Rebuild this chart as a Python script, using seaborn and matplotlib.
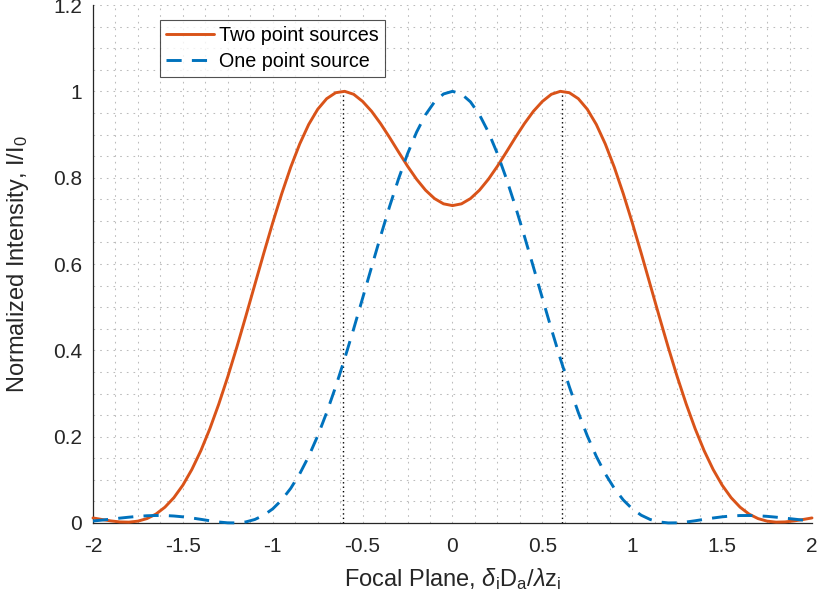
import matplotlib
matplotlib.use("Agg")
import matplotlib.pyplot as plt
import matplotlib.ticker as mticker
import seaborn as sns
import pandas as pd

# ---------------- data ----------------
x_vals = [-2.00, -1.95, -1.90, -1.85, -1.80, -1.75, -1.70, -1.65, -1.60, -1.55,
          -1.50, -1.45, -1.40, -1.35, -1.30, -1.25, -1.20, -1.15, -1.10, -1.05,
          -1.00, -0.95, -0.90, -0.85, -0.80, -0.75, -0.70, -0.65, -0.60, -0.55,
          -0.50, -0.45, -0.40, -0.35, -0.30, -0.25, -0.20, -0.15, -0.10, -0.05,
          0.00,
          0.05, 0.10, 0.15, 0.20, 0.25, 0.30, 0.35, 0.40, 0.45, 0.50,
          0.55, 0.60, 0.65, 0.70, 0.75, 0.80, 0.85, 0.90, 0.95, 1.00,
          1.05, 1.10, 1.15, 1.20, 1.25, 1.30, 1.35, 1.40, 1.45, 1.50,
          1.55, 1.60, 1.65, 1.70, 1.75, 1.80, 1.85, 1.90, 1.95, 2.00]

two_sources = [0.0117, 0.0081, 0.0048, 0.0025, 0.0020, 0.0043, 0.0102, 0.0206, 0.0366, 0.0587,
               0.0877, 0.1240, 0.1675, 0.2183, 0.2758, 0.3391, 0.4072, 0.4787, 0.5518, 0.6248,
               0.6958, 0.7629, 0.8243, 0.8781, 0.9233, 0.9584, 0.9830, 0.9968, 1.0000, 0.9932,
               0.9766, 0.9537, 0.9252, 0.8931, 0.8595, 0.8266, 0.7965, 0.7710, 0.7516, 0.7394,
               0.7353,
               0.7394, 0.7516, 0.7710, 0.7965, 0.8266, 0.8595, 0.8931, 0.9252, 0.9537, 0.9766,
               0.9932, 1.0000, 0.9968, 0.9830, 0.9584, 0.9233, 0.8781, 0.8243, 0.7629, 0.6958,
               0.6248, 0.5518, 0.4787, 0.4072, 0.3391, 0.2758, 0.2183, 0.1675, 0.1240, 0.0877,
               0.0587, 0.0366, 0.0206, 0.0102, 0.0043, 0.0020, 0.0025, 0.0048, 0.0081, 0.0117]

one_source = [0.0046, 0.0067, 0.0090, 0.0113, 0.0135, 0.0154, 0.0168, 0.0174, 0.0173, 0.0162,
              0.0143, 0.0116, 0.0085, 0.0052, 0.0023, 0.0004, 0.0002, 0.0025, 0.0081, 0.0180,
              0.0328, 0.0534, 0.0803, 0.1139, 0.1544, 0.2018, 0.2558, 0.3157, 0.3806, 0.4495,
              0.5209, 0.5931, 0.6645, 0.7332, 0.7975, 0.8554, 0.9053, 0.9458, 0.9756, 0.9939,
              1.0000,
              0.9939, 0.9756, 0.9458, 0.9053, 0.8554, 0.7975, 0.7332, 0.6645, 0.5931, 0.5209,
              0.4495, 0.3806, 0.3157, 0.2558, 0.2018, 0.1544, 0.1139, 0.0803, 0.0534, 0.0328,
              0.0180, 0.0081, 0.0025, 0.0002, 0.0004, 0.0023, 0.0052, 0.0085, 0.0116, 0.0143,
              0.0162, 0.0173, 0.0174, 0.0168, 0.0154, 0.0135, 0.0113, 0.0090, 0.0067, 0.0046]

peak_positions = [-0.61, 0.61]
peak_heights = [1.0, 1.0]

series_names = ["Two point sources", "One point source"]
x_ticks = [-2, -1.5, -1, -0.5, 0, 0.5, 1, 1.5, 2]
x_tick_labels = ["-2", "-1.5", "-1", "-0.5", "0", "0.5", "1", "1.5", "2"]
y_ticks = [0, 0.2, 0.4, 0.6, 0.8, 1.0, 1.2]
y_tick_labels = ["0", "0.2", "0.4", "0.6", "0.8", "1", "1.2"]

# ---------------- style ----------------
sns.set_style("white")
plt.rcParams["font.family"] = ["Liberation Sans", "DejaVu Sans"]
plt.rcParams["mathtext.fontset"] = "custom"
plt.rcParams["mathtext.rm"] = "Liberation Sans"
plt.rcParams["mathtext.it"] = "Liberation Sans:italic"
plt.rcParams["mathtext.bf"] = "Liberation Sans:bold"

RED = "#D95319"
BLUE = "#0072BD"
TXT = "#262626"

df_two = pd.DataFrame({"x": x_vals, "y": two_sources})
df_one = pd.DataFrame({"x": x_vals, "y": one_source})

fig = plt.figure(figsize=(8.2, 6.09), dpi=100)
ax = fig.add_axes([93 / 820, 86 / 609, 719 / 820, 518 / 609])

# grid (MATLAB-like dotted minor grid)
ax.xaxis.set_major_locator(mticker.FixedLocator(x_ticks))
ax.yaxis.set_major_locator(mticker.FixedLocator(y_ticks))
ax.xaxis.set_minor_locator(mticker.MultipleLocator(0.125))
ax.yaxis.set_minor_locator(mticker.MultipleLocator(0.05))
grid_kw = dict(color="#bcbcbc", linewidth=0.75, linestyle=(0, (1.6, 4.8)))
ax.grid(True, which="major", **grid_kw)
ax.grid(True, which="minor", **grid_kw)
ax.set_axisbelow(True)

# peak markers
ax.vlines(peak_positions, 0, peak_heights, colors="black", linestyles=(0, (1, 2.2)),
          linewidth=1.0, zorder=2)

sns.lineplot(data=df_two, x="x", y="y", ax=ax, color=RED, linewidth=2.1,
             label=series_names[0], zorder=3, clip_on=False)
sns.lineplot(data=df_one, x="x", y="y", ax=ax, color=BLUE, linewidth=2.1,
             label=series_names[1], zorder=4, clip_on=False)
ax.lines[-1].set_dashes((5.2, 3.5))

ax.set_xlim(-2, 2)
ax.set_ylim(0, 1.2)
ax.set_xticklabels(x_tick_labels)
ax.set_yticklabels(y_tick_labels)

for s in ["top", "right"]:
    ax.spines[s].set_visible(False)
for s in ["left", "bottom"]:
    ax.spines[s].set_color(TXT)
    ax.spines[s].set_linewidth(0.9)

ax.tick_params(axis="both", which="major", direction="in", length=5, width=0.8,
               colors=TXT, labelsize=15)
ax.tick_params(axis="x", which="major", pad=10)
ax.tick_params(axis="y", which="major", pad=8)
ax.tick_params(axis="both", which="minor", length=0)

ax.set_xlabel(r"Focal Plane, $\delta_{\rm i}{\rm D}_{\rm a}/\lambda{\rm z}_{\rm i}$",
              fontsize=17, color=TXT)
ax.xaxis.set_label_coords(0.5, -0.083)
ax.set_ylabel(r"Normalized Intensity, I/I$_{\rm 0}$", fontsize=17, color=TXT, va="center")
ax.yaxis.set_label_coords(-75 / 719, 0.5)

leg = ax.legend(loc="upper left", bbox_to_anchor=(0.093, 0.971), borderaxespad=0,
                fontsize=14.2, frameon=True, fancybox=False, edgecolor=TXT,
                handlelength=2.45, handletextpad=0.25, labelspacing=0.34,
                borderpad=0.32)
leg.get_frame().set_linewidth(0.8)
for t in leg.get_texts():
    t.set_color("black")

fig.savefig("out.png", dpi=100)
